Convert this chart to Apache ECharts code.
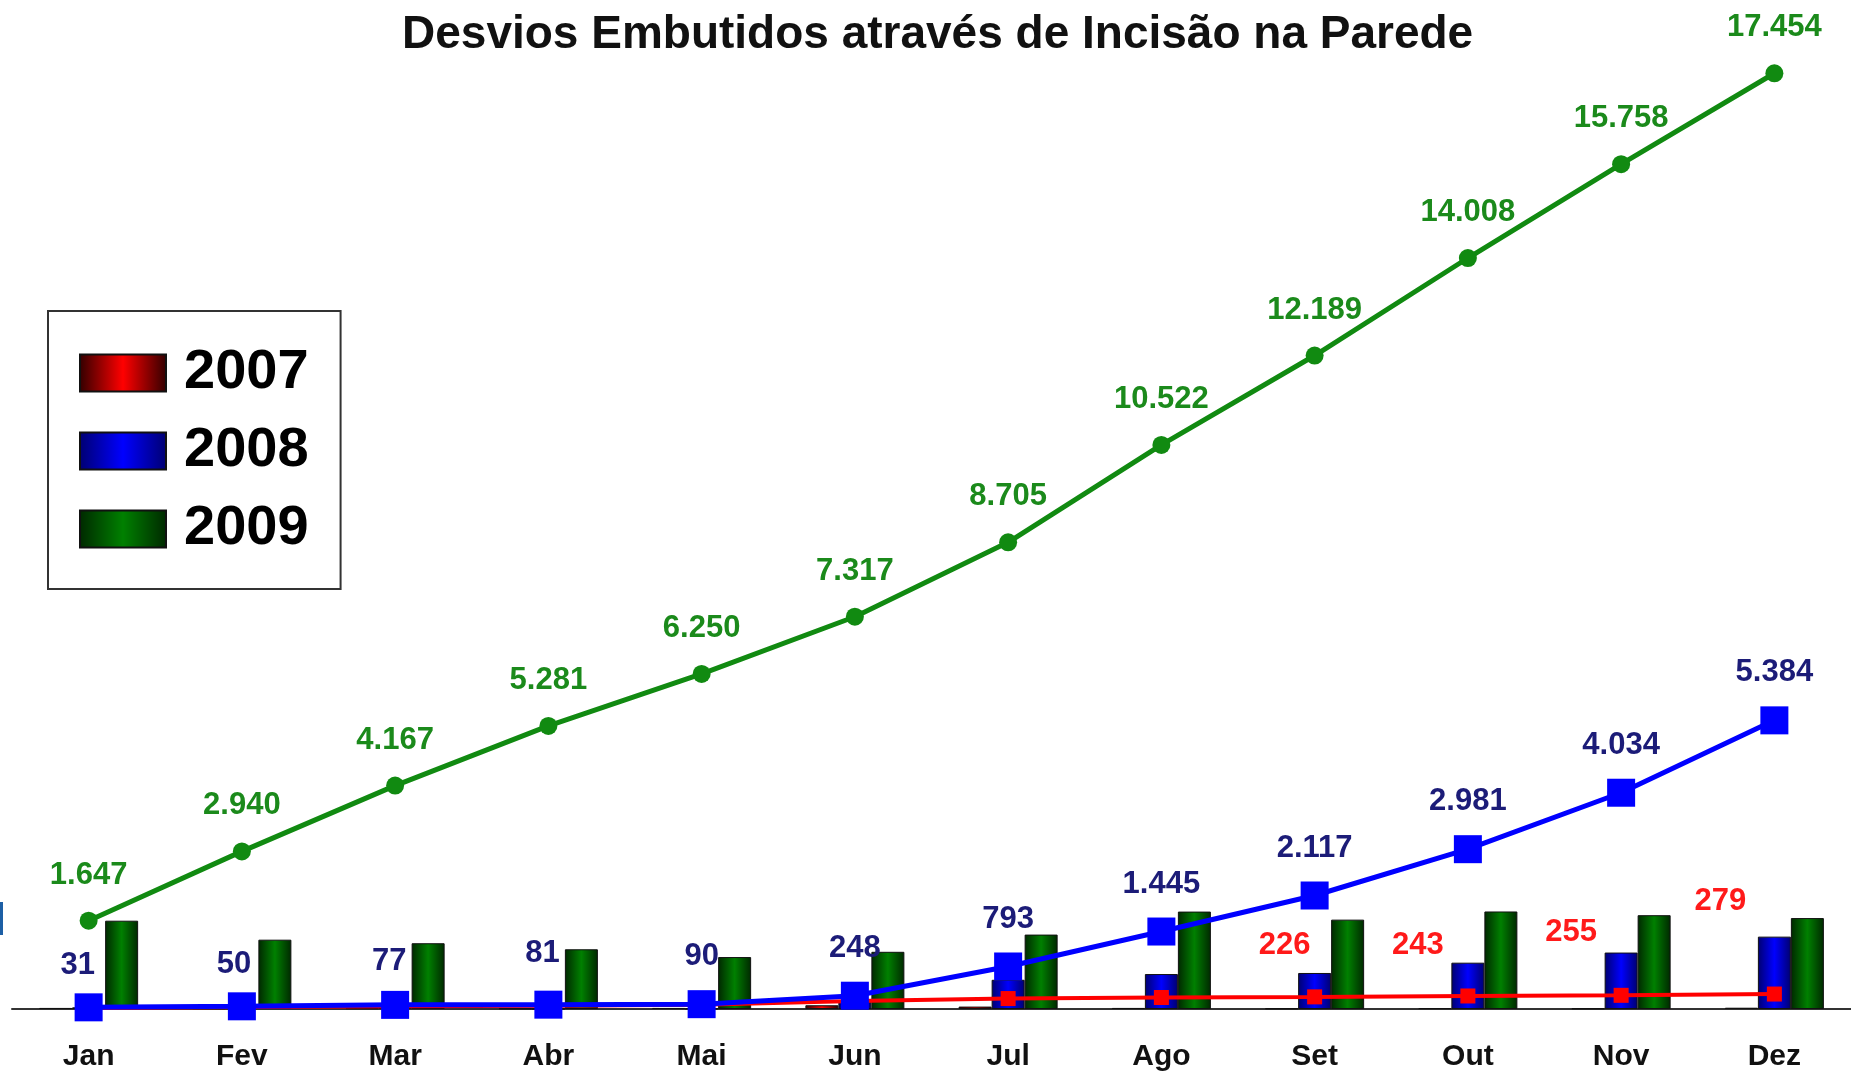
<!DOCTYPE html>
<html lang="pt-br">
<head>
<meta charset="utf-8">
<title>Desvios Embutidos através de Incisão na Parede</title>
<script src="https://cdn.jsdelivr.net/npm/echarts@6/dist/echarts.min.js"></script>
<style>
  html, body { margin: 0; padding: 0; background: #fff; }
  #main { width: 1851px; height: 1072px; }
</style>
</head>
<body>
<div id="main"></div>
<script>
var meses = ['Jan', 'Fev', 'Mar', 'Abr', 'Mai', 'Jun', 'Jul', 'Ago', 'Set', 'Out', 'Nov', 'Dez'];

// totais mensais (barras)
var mensal2007 = [20, 15, 15, 10, 20, 70, 45, 20, 11, 17, 12, 24];
var mensal2008 = [31, 19, 27, 4, 9, 158, 545, 652, 672, 864, 1053, 1350];
var mensal2009 = [1647, 1293, 1227, 1114, 969, 1067, 1388, 1817, 1667, 1819, 1750, 1696];

// acumulado (linhas)
var acum2007 = [20, 35, 50, 60, 80, 150, 195, 215, 226, 243, 255, 279];
var acum2008 = [31, 50, 77, 81, 90, 248, 793, 1445, 2117, 2981, 4034, 5384];
var acum2009 = [1647, 2940, 4167, 5281, 6250, 7317, 8705, 10522, 12189, 14008, 15758, 17454];

// rótulos de 2007 só aparecem de Set a Dez, deslocados para a esquerda
var rotulos2007 = { 8: [-30, -28], 9: [-50, -28], 10: [-50, -40], 11: [-54, -70] };
var rotulos2008 = { 0: [-11, 6], 1: [-8, 6], 2: [-6, 4], 3: [-6, -4] };

function fmt(v) {
    return String(v).replace(/\B(?=(\d{3})+(?!\d))/g, '.');
}

function grad(borda, meio) {
    return new echarts.graphic.LinearGradient(0, 0, 1, 0, [
        { offset: 0, color: borda },
        { offset: 0.5, color: meio },
        { offset: 1, color: borda }
    ]);
}

var chart = echarts.init(document.getElementById('main'));

var labelFont = { fontFamily: 'Liberation Sans, Arial, sans-serif', fontSize: 31, fontWeight: 'bold' };

var option = {
    backgroundColor: '#fff',
    animation: false,
    title: {
        text: 'Desvios Embutidos através de Incisão na Parede',
        left: 402,
        top: 12,
        padding: 0,
        textStyle: {
            fontFamily: 'Liberation Sans, Arial, sans-serif',
            fontSize: 46,
            fontWeight: 'bold',
            color: '#111'
        }
    },
    legend: {
        data: ['2007', '2008', '2009'],
        orient: 'vertical',
        left: 48,
        top: 311,
        padding: [34, 32, 32, 31],
        backgroundColor: '#fff',
        borderColor: '#333',
        borderWidth: 2,
        itemWidth: 86,
        itemHeight: 37,
        itemGap: 22,
        icon: 'rect',
        selectedMode: false,
        textStyle: {
            fontFamily: 'Liberation Sans, Arial, sans-serif',
            fontSize: 56,
            fontWeight: 'bold',
            lineHeight: 56,
            color: '#000',
            padding: [0, 0, 0, 13]
        }
    },
    graphic: [{
        type: 'rect',
        left: 0,
        top: 902,
        shape: { width: 3, height: 33 },
        style: { fill: '#1d5fa5' }
    }],
    grid: { left: 12, top: 44, width: 1844, bottom: 60 },
    xAxis: {
        type: 'category',
        data: meses,
        axisLine: { lineStyle: { color: '#333', width: 2 } },
        axisTick: { length: 9, lineStyle: { color: '#333', width: 2 } },
        axisLabel: {
            margin: 33,
            color: '#111',
            fontFamily: 'Liberation Sans, Arial, sans-serif',
            fontSize: 30,
            fontWeight: 'bold'
        }
    },
    yAxis: {
        type: 'value',
        min: 0,
        max: 18000,
        show: false,
        splitLine: { show: false }
    },
    series: [
        {
            name: '2007', type: 'bar', data: mensal2007, barWidth: 33, barGap: '0%',
            itemStyle: { color: grad('#300000', '#ff0000'), borderColor: '#111', borderWidth: 1 }
        },
        {
            name: '2008', type: 'bar', data: mensal2008, barWidth: 33, barGap: '0%',
            itemStyle: { color: grad('#000070', '#0000ff'), borderColor: '#111', borderWidth: 1 }
        },
        {
            name: '2009', type: 'bar', data: mensal2009, barWidth: 33, barGap: '0%',
            itemStyle: { color: grad('#002800', '#008000'), borderColor: '#111', borderWidth: 1 }
        },
        {
            name: 'Acumulado 2007', type: 'line',
            data: acum2007.map(function (v, i) {
                var off = rotulos2007[i];
                return {
                    value: v,
                    label: off ? { show: true, offset: off } : { show: false }
                };
            }),
            symbol: 'rect', symbolSize: 15,
            lineStyle: { color: '#ff0000', width: 4 },
            itemStyle: { color: '#ff0000' },
            label: Object.assign({
                position: 'top', distance: 0, color: '#ff1a1a',
                formatter: function (p) { return fmt(p.value); }
            }, labelFont)
        },
        {
            name: 'Acumulado 2008', type: 'line',
            data: acum2008.map(function (v, i) {
                var off = rotulos2008[i];
                return off ? { value: v, label: { offset: off } } : v;
            }),
            symbol: 'rect', symbolSize: 28,
            lineStyle: { color: '#0000ff', width: 5 },
            itemStyle: { color: '#0000ff' },
            label: Object.assign({
                show: true, position: 'top', distance: 18, color: '#1c1c78',
                formatter: function (p) { return fmt(p.value); }
            }, labelFont)
        },
        {
            name: 'Acumulado 2009', type: 'line', data: acum2009,
            symbol: 'circle', symbolSize: 18,
            lineStyle: { color: '#118a11', width: 5 },
            itemStyle: { color: '#118a11' },
            label: Object.assign({
                show: true, position: 'top', distance: 21, color: '#1b8a1b',
                formatter: function (p) { return fmt(p.value); }
            }, labelFont)
        }
    ]
};

chart.setOption(option);
</script>
</body>
</html>
